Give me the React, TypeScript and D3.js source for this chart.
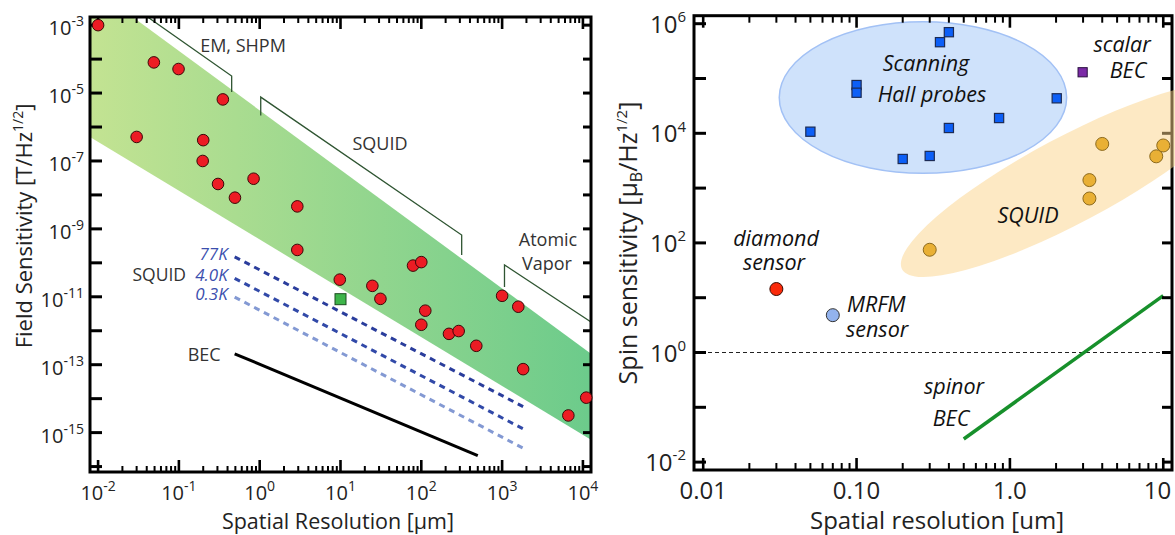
import React, { useEffect, useRef } from "react";
import * as d3 from "d3";

const FONT = "'Open Sans', 'Noto Sans', sans-serif";

// ---------- left panel: field sensitivity vs spatial resolution ----------
const fieldX = [0.01, 0.049, 0.099, 0.35, 0.03, 0.2, 0.197, 0.305, 0.494, 0.84, 2.92, 2.92, 79, 100, 9.8, 24.8, 31.2, 112, 100, 220, 290, 479, 1000, 1585, 1820, 6600, 11000];
const fieldY = [1.0e-3, 8.0e-5, 5.1e-5, 6.5e-6, 5.1e-7, 4.1e-7, 1.0e-7, 2.1e-8, 8.3e-9, 3.0e-8, 4.6e-9, 2.4e-10, 8.3e-11, 1.05e-10, 3.2e-11, 2.1e-11, 8.7e-12, 3.9e-12, 1.5e-12, 8.1e-13, 9.8e-13, 3.6e-13, 1.07e-11, 5.1e-12, 7.4e-14, 3.2e-15, 1.07e-14];
const squareX = [10];
const squareY = [8.5e-12];

const squidTemps = ["77K", "4.0K", "0.3K"];
const squidColors = ["#2a3d9c", "#3149a8", "#8399d3"];
const squidX = [0.49, 2000];
const squidY = [
  [1.5e-10, 5.2e-15],
  [3.5e-11, 1.15e-15],
  [9.8e-12, 3.1e-16],
];
const becX = [0.49, 500];
const becY = [2.1e-13, 2.1e-16];

// envelope of all magnetometers (green band)
const bandX = [0.00794, 0.0268, 12590, 12590, 0.00794];
const bandY = [1.74e-3, 1.74e-3, 2.1e-13, 6.2e-16, 5.1e-7];

// bracket lines above the band
const emX = [0.041, 0.45, 0.45];
const emY = [1.74e-3, 3.16e-5, 1.07e-5];
const squidBrX = [1.03, 1.03, 316, 316];
const squidBrY = [2.2e-6, 7.6e-6, 6.6e-10, 1.7e-10];
const vaporX = [1070, 1070, 12590];
const vaporY = [1.95e-11, 8.7e-11, 1.8e-12];

const leftYLabels = [-3, -5, -7, -9, -11, -13, -15];
const leftXLabels = [-2, -1, 0, 1, 2, 3, 4];

// ---------- right panel: spin sensitivity vs spatial resolution ----------
const hallX = [0.1, 0.1, 0.05, 0.4, 0.35, 2.02, 0.85, 0.4, 0.2, 0.3];
const hallY = [7.6e4, 5.5e4, 1.07e4, 7.0e5, 4.6e5, 4.35e4, 1.9e4, 1.25e4, 3.4e3, 3.86e3];
const scalarBecX = [2.98];
const scalarBecY = [1.3e5];
const squidSpinX = [4.0, 10, 9.0, 3.3, 3.3, 0.3];
const squidSpinY = [6.4e3, 6.0e3, 3.8e3, 1.4e3, 646, 75];
const diamondX = [0.03];
const diamondY = [14.4];
const mrfmX = [0.07];
const mrfmY = [4.8];
const spinorX = [0.5, 10];
const spinorY = [0.0264, 10.9];

// shaded regions (centre, half-size in decades / end points)
const hallRegionCenter = [0.271, 4.5e4];
const hallRegionSpan = [0.937, 1.383];
const squidRegionX = [0.198, 30.6];
const squidRegionY = [33, 5.96e4];

const rightYLabels = [6, 4, 2, 0, -2];
const rightXTicks = [0.01, 0.1, 1, 10];
const rightXLabels = ["0.01", "0.10", "1.0", "10"];

export default function App() {
  const ref = useRef<SVGSVGElement>(null);

  useEffect(() => {
    document.body.style.margin = "0";
    const svg = d3.select(ref.current);
    svg.selectAll("*").remove();
    svg.attr("width", 1175).attr("height", 535).style("font-family", FONT).style("display", "block");
    const defs = svg.append("defs");

    const isMajor = (v: number) => Math.abs(Math.log10(v) - Math.round(Math.log10(v))) < 1e-6;

    const powText = (g: any, x: number, y: number, exp: number, size: number, sup: number, anchor: string) => {
      const t = g
        .append("text")
        .attr("x", x)
        .attr("y", y)
        .attr("text-anchor", anchor)
        .attr("font-size", size)
        .attr("fill", "#222");
      t.append("tspan").text("10");
      t.append("tspan")
        .attr("font-size", sup)
        .attr("dy", -size * 0.45)
        .text(String(exp));
      return t;
    };

    const drawFrame = (g: any, x: any, y: any, box: any, o: any) => {
      const xt = x.ticks().filter((v: number) => v >= o.xMin * 0.999 && v <= o.xMax * 1.001);
      const yt = o.yExp.map((e: number) => Math.pow(10, e));
      xt.forEach((v: number) => {
        const px = x(v);
        const len = isMajor(v) ? o.major : o.minor;
        const w = isMajor(v) ? 2.6 : 2;
        g.append("line").attr("x1", px).attr("x2", px).attr("y1", box.y1).attr("y2", box.y1 - len).attr("stroke", "#000").attr("stroke-width", w);
        g.append("line").attr("x1", px).attr("x2", px).attr("y1", box.y0).attr("y2", box.y0 + len).attr("stroke", "#000").attr("stroke-width", w);
      });
      yt.forEach((v: number) => {
        const py = y(v);
        g.append("line").attr("x1", box.x0).attr("x2", box.x0 + o.left).attr("y1", py).attr("y2", py).attr("stroke", "#000").attr("stroke-width", 3);
        g.append("line").attr("x1", box.x1).attr("x2", box.x1 - o.right).attr("y1", py).attr("y2", py).attr("stroke", "#000").attr("stroke-width", 3);
      });
      g.append("rect")
        .attr("x", box.x0)
        .attr("y", box.y0)
        .attr("width", box.x1 - box.x0)
        .attr("height", box.y1 - box.y0)
        .attr("fill", "none")
        .attr("stroke", "#000")
        .attr("stroke-width", 3);
    };

    const ann = (g: any, x: number, y: number, s: string, o: any = {}) =>
      g
        .append("text")
        .attr("x", x)
        .attr("y", y)
        .attr("text-anchor", o.anchor || "middle")
        .attr("font-size", o.size || 18)
        .attr("font-style", o.italic ? "italic" : "normal")
        .attr("fill", o.color || "#333")
        .text(s);

    // ================= LEFT PANEL =================
    const L = { x0: 90, x1: 591, y0: 17, y1: 472 };
    const xL = d3.scaleLog().domain([Math.pow(10, -2.1), Math.pow(10, 4.1)]).range([L.x0, L.x1]);
    const yL = d3.scaleLog().domain([Math.pow(10, -16.16), Math.pow(10, -2.76)]).range([L.y1, L.y0]);
    const lineL = d3
      .line<[number, number]>()
      .x((d) => xL(d[0]))
      .y((d) => yL(d[1]));

    defs
      .append("clipPath")
      .attr("id", "clipL")
      .append("rect")
      .attr("x", L.x0)
      .attr("y", L.y0)
      .attr("width", L.x1 - L.x0)
      .attr("height", L.y1 - L.y0);

    const grad = defs
      .append("linearGradient")
      .attr("id", "bandGrad")
      .attr("gradientUnits", "userSpaceOnUse")
      .attr("x1", L.x0)
      .attr("x2", L.x1)
      .attr("y1", 0)
      .attr("y2", 0);
    grad.append("stop").attr("offset", "0%").attr("stop-color", "#c3e392");
    grad.append("stop").attr("offset", "100%").attr("stop-color", "#6ccb8b");

    const gL = svg.append("g");
    const plotL = gL.append("g").attr("clip-path", "url(#clipL)");

    plotL
      .append("path")
      .attr("d", lineL(d3.zip(bandX, bandY) as any) + "Z")
      .attr("fill", "url(#bandGrad)");

    [
      [emX, emY],
      [squidBrX, squidBrY],
      [vaporX, vaporY],
    ].forEach(([xs, ys]) => {
      plotL
        .append("path")
        .attr("d", lineL(d3.zip(xs, ys) as any))
        .attr("fill", "none")
        .attr("stroke", "#2f5532")
        .attr("stroke-width", 1.3);
    });

    squidY.forEach((ys, i) => {
      plotL
        .append("path")
        .attr("d", lineL(d3.zip(squidX, ys) as any))
        .attr("fill", "none")
        .attr("stroke", squidColors[i])
        .attr("stroke-width", 3)
        .attr("stroke-dasharray", "6,5");
      gL.append("text")
        .attr("x", xL(squidX[0]) - 7)
        .attr("y", yL(ys[0]) + 3)
        .attr("text-anchor", "end")
        .attr("font-size", 17)
        .attr("font-style", "italic")
        .attr("fill", "#3b4fae")
        .text(squidTemps[i]);
    });

    plotL
      .append("path")
      .attr("d", lineL(d3.zip(becX, becY) as any))
      .attr("fill", "none")
      .attr("stroke", "#000")
      .attr("stroke-width", 3);

    drawFrame(gL, xL, yL, L, { xMin: 0.01, xMax: 1e4, yExp: d3.range(-16, -2), major: 12, minor: 6, left: 12, right: 8 });

    // markers sit on top of the frame (not clipped)
    gL.selectAll(".dot")
      .data(d3.zip(fieldX, fieldY))
      .enter()
      .append("circle")
      .attr("cx", (d) => xL(d[0]))
      .attr("cy", (d) => yL(d[1]))
      .attr("r", 5.8)
      .attr("fill", "#ec1c24")
      .attr("stroke", "#3a0808")
      .attr("stroke-width", 1);

    d3.zip(squareX, squareY).forEach((d) => {
      gL.append("rect")
        .attr("x", xL(d[0]) - 5.5)
        .attr("y", yL(d[1]) - 5.5)
        .attr("width", 11)
        .attr("height", 11)
        .attr("fill", "#3db54a")
        .attr("stroke", "#1b4d1f")
        .attr("stroke-width", 1);
    });

    ann(gL, 243, 52, "EM, SHPM");
    ann(gL, 380, 150, "SQUID");
    ann(gL, 548, 246, "Atomic");
    ann(gL, 547, 270, "Vapor");
    ann(gL, 186, 281, "SQUID", { anchor: "end", size: 17.5 });
    ann(gL, xL(becX[0]) - 14, yL(becY[0]) + 7, "BEC", { anchor: "end" });

    leftYLabels.forEach((e) => powText(gL, 84, yL(Math.pow(10, e)) + 10, e, 20, 14, "end"));
    leftXLabels.forEach((e) => powText(gL, xL(Math.pow(10, e)), 500, e, 20, 14, "middle"));

    const ytL = gL
      .append("text")
      .attr("transform", "translate(32,226) rotate(-90)")
      .attr("text-anchor", "middle")
      .attr("font-size", 22)
      .attr("fill", "#222");
    ytL.append("tspan").text("Field Sensitivity [T/Hz");
    ytL.append("tspan").attr("font-size", 14).attr("dy", -9).text("1/2");
    ytL.append("tspan").attr("dy", 9).text("]");

    gL.append("text")
      .attr("x", 338)
      .attr("y", 529)
      .attr("text-anchor", "middle")
      .attr("font-size", 21.5)
      .attr("fill", "#222")
      .text("Spatial Resolution [μm]");

    // ================= RIGHT PANEL =================
    const R = { x0: 694, x1: 1172, y0: 15.7, y1: 470 };
    const xR = d3.scaleLog().domain([Math.pow(10, -2.06), Math.pow(10, 1.057)]).range([R.x0, R.x1]);
    const yR = d3.scaleLog().domain([Math.pow(10, -2.144), Math.pow(10, 6.146)]).range([R.y1, R.y0]);
    const lineR = d3
      .line<[number, number]>()
      .x((d) => xR(d[0]))
      .y((d) => yR(d[1]));

    const gR = svg.append("g");

    // Hall probe region
    const hcx = xR(hallRegionCenter[0]);
    const hcy = yR(hallRegionCenter[1]);
    gR.append("ellipse")
      .attr("cx", hcx)
      .attr("cy", hcy)
      .attr("rx", xR(hallRegionCenter[0] * Math.pow(10, hallRegionSpan[0])) - hcx)
      .attr("ry", hcy - yR(hallRegionCenter[1] * Math.pow(10, hallRegionSpan[1])))
      .attr("fill", "#cfe2fb")
      .attr("stroke", "#a2c1f5")
      .attr("stroke-width", 1.5);

    gR.append("line")
      .attr("x1", R.x0)
      .attr("x2", R.x1)
      .attr("y1", yR(1))
      .attr("y2", yR(1))
      .attr("stroke", "#222")
      .attr("stroke-width", 1)
      .attr("stroke-dasharray", "4,3");

    gR.append("path")
      .attr("d", lineR(d3.zip(spinorX, spinorY) as any))
      .attr("fill", "none")
      .attr("stroke", "#17902b")
      .attr("stroke-width", 3.5);

    drawFrame(gR, xR, yR, R, { xMin: 0.01, xMax: 10, yExp: d3.range(-2, 7), major: 12, minor: 7, left: 12, right: 10 });

    // SQUID region (translucent, over the frame)
    const p1 = [xR(squidRegionX[0]), yR(squidRegionY[0])];
    const p2 = [xR(squidRegionX[1]), yR(squidRegionY[1])];
    const scx = (p1[0] + p2[0]) / 2;
    const scy = (p1[1] + p2[1]) / 2;
    const sa = Math.hypot(p2[0] - p1[0], p2[1] - p1[1]) / 2;
    const ang = (Math.atan2(p2[1] - p1[1], p2[0] - p1[0]) * 180) / Math.PI;
    gR.append("ellipse")
      .attr("cx", scx)
      .attr("cy", scy)
      .attr("rx", sa)
      .attr("ry", 43)
      .attr("transform", `rotate(${ang},${scx},${scy})`)
      .attr("fill", "#fbd48a")
      .attr("opacity", 0.5);

    d3.zip(hallX, hallY).forEach((d) => {
      gR.append("rect")
        .attr("x", xR(d[0]) - 4.6)
        .attr("y", yR(d[1]) - 4.6)
        .attr("width", 9.2)
        .attr("height", 9.2)
        .attr("fill", "#0c5ff7")
        .attr("stroke", "#1c2b55")
        .attr("stroke-width", 1.2);
    });
    d3.zip(scalarBecX, scalarBecY).forEach((d) => {
      gR.append("rect")
        .attr("x", xR(d[0]) - 4.6)
        .attr("y", yR(d[1]) - 4.6)
        .attr("width", 9.2)
        .attr("height", 9.2)
        .attr("fill", "#7b2aa6")
        .attr("stroke", "#2a1040")
        .attr("stroke-width", 1);
    });
    d3.zip(squidSpinX, squidSpinY).forEach((d) => {
      gR.append("circle")
        .attr("cx", xR(d[0]))
        .attr("cy", yR(d[1]))
        .attr("r", 6.5)
        .attr("fill", "#e9b035")
        .attr("stroke", "#8c6a1e")
        .attr("stroke-width", 1);
    });
    d3.zip(diamondX, diamondY).forEach((d) => {
      gR.append("circle")
        .attr("cx", xR(d[0]))
        .attr("cy", yR(d[1]))
        .attr("r", 6.5)
        .attr("fill", "#fa2a0a")
        .attr("stroke", "#3a0a00")
        .attr("stroke-width", 1);
    });
    d3.zip(mrfmX, mrfmY).forEach((d) => {
      gR.append("circle")
        .attr("cx", xR(d[0]))
        .attr("cy", yR(d[1]))
        .attr("r", 6.5)
        .attr("fill", "#93b3ee")
        .attr("stroke", "#333")
        .attr("stroke-width", 1);
    });

    const it = { italic: true, size: 21.5, color: "#111" };
    ann(gR, 926, 71, "Scanning", it);
    ann(gR, 932, 102, "Hall probes", it);
    ann(gR, 1122, 52, "scalar", it);
    ann(gR, 1128, 78, "BEC", it);
    ann(gR, 1028, 223, "SQUID", it);
    ann(gR, 776, 246, "diamond", it);
    ann(gR, 774, 270, "sensor", it);
    ann(gR, 847, 312, "MRFM", { ...it, anchor: "start" });
    ann(gR, 846, 337, "sensor", { ...it, anchor: "start" });
    ann(gR, 954, 394, "spinor", it);
    ann(gR, 951, 426, "BEC", it);

    rightYLabels.forEach((e) => powText(gR, 686, yR(Math.pow(10, e)) + 9, e, 24, 15, "end"));
    rightXTicks.forEach((v, i) => {
      const last = i === rightXTicks.length - 1;
      gR.append("text")
        .attr("x", last ? xR(v) + 8 : xR(v))
        .attr("y", 499)
        .attr("text-anchor", last ? "end" : "middle")
        .attr("font-size", 24)
        .attr("fill", "#222")
        .text(rightXLabels[i]);
    });

    const ytR = gR
      .append("text")
      .attr("transform", "translate(637,243) rotate(-90)")
      .attr("text-anchor", "middle")
      .attr("font-size", 25)
      .attr("fill", "#222");
    ytR.append("tspan").text("Spin sensitivity [μ");
    ytR.append("tspan").attr("font-size", 16).attr("dy", 5).text("B");
    ytR.append("tspan").attr("dy", -5).text("/Hz");
    ytR.append("tspan").attr("font-size", 15).attr("dy", -10).text("1/2");
    ytR.append("tspan").attr("dy", 10).text("]");

    gR.append("text")
      .attr("x", 937)
      .attr("y", 529)
      .attr("text-anchor", "middle")
      .attr("font-size", 24)
      .attr("fill", "#222")
      .text("Spatial resolution [um]");
  }, []);

  return <svg ref={ref} />;
}
